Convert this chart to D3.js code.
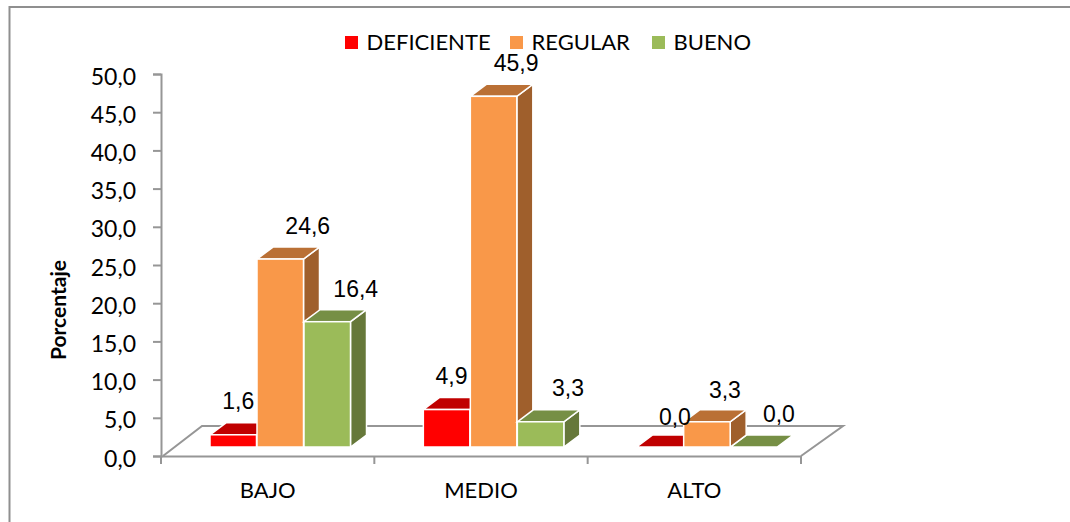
<!DOCTYPE html>
<html>
<head>
<meta charset="utf-8">
<script src="https://d3js.org/d3.v7.min.js"></script>
<style>
  html, body { margin: 0; padding: 0; background: #fff; overflow: hidden; }
  svg { display: block; }
</style>
</head>
<body>
<script>
var categories = ["BAJO", "MEDIO", "ALTO"];
var seriesNames = ["DEFICIENTE", "REGULAR", "BUENO"];
var deficiente = [1.6, 4.9, 0.0];
var regular = [24.6, 45.9, 3.3];
var bueno = [16.4, 3.3, 0.0];
var yTicks = [0, 5, 10, 15, 20, 25, 30, 35, 40, 45, 50];

var width = 1070, height = 522;
var margin = {top: 74, bottom: 66, left: 161, right: 269};

// colours per series: front, top, side
var colors = [
  {front: "#ff0000", top: "#c00000", side: "#a00000"},
  {front: "#f99849", top: "#ba7035", side: "#9f5f2c"},
  {front: "#9bbb59", top: "#768f45", side: "#66783a"}
];
var grey = "#969696";
var numFont = "'Liberation Sans', Arial, sans-serif";
var textFont = "Lato, sans-serif";

// depth of the fake 3D
var floorDx = 41, floorDy = -30;
var barDx = 16, barDy = -12;
var floorGap = 9;

// hand nudges of the data labels, [series][category]
var labelNudgeX = [
  [5, 5, 15],
  [27.5, 22.5, 18],
  [28.5, 27.5, 25]
];
var labelRaise = [
  [25.5, 25.5, 22],
  [25, 25.5, 23.5],
  [24.5, 25.5, 25]
];

var seriesData = [deficiente, regular, bueno];
var comma = function(v){ return v.toFixed(1).replace(".", ","); };

var svg = d3.select("body")
  .append("svg")
  .attr("width", width)
  .attr("height", height);

svg.append("rect")
  .attr("width", width)
  .attr("height", height)
  .attr("fill", "#fff");

// outer frame, only top and left are in the picture
svg.append("path")
  .attr("d", "M9.5,522V7H1070")
  .attr("fill", "none")
  .attr("stroke", "#8f8f8f")
  .attr("stroke-width", 2);

var yScale = d3.scaleLinear()
  .domain([0, 50])
  .range([height - margin.bottom, margin.top]);

var xScale = d3.scaleBand()
  .domain(categories)
  .range([margin.left, width - margin.right]);

var innerScale = d3.scaleBand()
  .domain(d3.range(seriesNames.length))
  .range([49, 190]);

var baseY = yScale(0);

// floor, back edge first so the bars sit over it
var xLeft = xScale.range()[0], xRight = xScale.range()[1];
svg.append("path")
  .attr("d", d3.line()([
    [xLeft + 2, baseY],
    [xLeft + floorDx, baseY + floorDy],
    [xRight + floorDx + 1, baseY + floorDy],
    [xRight, baseY]
  ]))
  .attr("fill", "none")
  .attr("stroke", grey)
  .attr("stroke-width", 2);

// Y axis
var yAxis = d3.axisLeft(yScale)
  .tickValues(yTicks)
  .tickSize(8)
  .tickPadding(17)
  .tickFormat(comma);

var yG = svg.append("g")
  .attr("class", "axis")
  .attr("transform", "translate(" + margin.left + ",0)")
  .call(yAxis);

// X axis, ticks on the band edges so the d3 ticks are replaced
var xAxis = d3.axisBottom(xScale).tickSize(0).tickPadding(26);

var xG = svg.append("g")
  .attr("class", "axis")
  .attr("transform", "translate(0," + baseY + ")")
  .call(xAxis);

xG.selectAll(".edge")
  .data(d3.range(categories.length + 1))
  .enter()
  .append("line")
  .attr("class", "edge")
  .attr("x1", function(i){ return xLeft + i * xScale.step(); })
  .attr("x2", function(i){ return xLeft + i * xScale.step(); })
  .attr("y1", 0)
  .attr("y2", 8);

svg.selectAll(".axis path, .axis line")
  .attr("stroke", grey)
  .attr("stroke-width", 2);

yG.selectAll("text")
  .attr("dy", 10)
  .attr("font-family", textFont)
  .attr("font-size", 23)
  .attr("fill", "#000");

xG.selectAll("text")
  .attr("font-family", textFont)
  .attr("font-size", 22)
  .attr("fill", "#000");

// Y axis label
svg.append("text")
  .text("Porcentaje")
  .attr("transform", "translate(66,310) rotate(270)")
  .attr("text-anchor", "middle")
  .attr("font-family", textFont)
  .attr("font-weight", "bold")
  .attr("font-size", 21)
  .attr("fill", "#000");

// bars
var bars = [];
seriesData.forEach(function(values, s){
  values.forEach(function(v, c){
    bars.push({s: s, c: c, v: v});
  });
});

var barX = function(d){ return xScale(categories[d.c]) + innerScale(d.s); };
var barTop = function(d){ return yScale(d.v) - floorGap; };
var barBottom = baseY - floorGap;
var bw = innerScale.bandwidth() - 0.5;

// empty bars first, then left to right so the nearer ones overlap properly
var barG = svg.selectAll(".bar")
  .data(bars.slice().sort(function(a, b){
    return (b.v === 0) - (a.v === 0) || a.c - b.c || a.s - b.s;
  }))
  .enter()
  .append("g")
  .attr("class", "bar");

barG.append("path")
  .attr("d", function(d){
    var x = barX(d) + bw, t = barTop(d);
    return d3.line()([[x, t], [x + barDx, t + barDy], [x + barDx, barBottom + barDy], [x, barBottom]]) + "Z";
  })
  .attr("fill", function(d){ return colors[d.s].side; })
  .attr("stroke", "#fff")
  .attr("stroke-width", function(d){ return d.v > 0 ? 1.5 : 0; });

barG.append("path")
  .attr("d", function(d){
    var x = barX(d), t = barTop(d);
    return d3.line()([[x, t], [x + barDx, t + barDy], [x + bw + barDx, t + barDy], [x + bw, t]]) + "Z";
  })
  .attr("fill", function(d){ return colors[d.s].top; })
  .attr("stroke", "#fff")
  .attr("stroke-width", 1.5);

barG.append("rect")
  .attr("x", barX)
  .attr("y", barTop)
  .attr("width", bw)
  .attr("height", function(d){ return barBottom - barTop(d); })
  .attr("fill", function(d){ return colors[d.s].front; })
  .attr("stroke", "#fff")
  .attr("stroke-width", 1.5);

// data labels
svg.selectAll(".value")
  .data(bars)
  .enter()
  .append("text")
  .attr("class", "value")
  .text(function(d){ return comma(d.v); })
  .attr("x", function(d){ return barX(d) + bw / 2 + labelNudgeX[d.s][d.c]; })
  .attr("y", function(d){ return barTop(d) - labelRaise[d.s][d.c]; })
  .attr("text-anchor", "middle")
  .attr("font-family", numFont)
  .attr("font-size", 23)
  .attr("fill", "#000");

// legend
var legendX = d3.scaleOrdinal()
  .domain(seriesNames)
  .range([345, 510, 652]);

var legend = svg.selectAll(".legend")
  .data(seriesNames)
  .enter()
  .append("g")
  .attr("class", "legend")
  .attr("transform", function(d){ return "translate(" + legendX(d) + ",36)"; });

legend.append("rect")
  .attr("width", 13)
  .attr("height", 13)
  .attr("fill", function(d, i){ return colors[i].front; });

legend.append("text")
  .text(function(d){ return d; })
  .attr("x", 21.5)
  .attr("y", 13.5)
  .attr("font-family", textFont)
  .attr("font-size", 22)
  .attr("fill", "#000");
</script>
</body>
</html>
